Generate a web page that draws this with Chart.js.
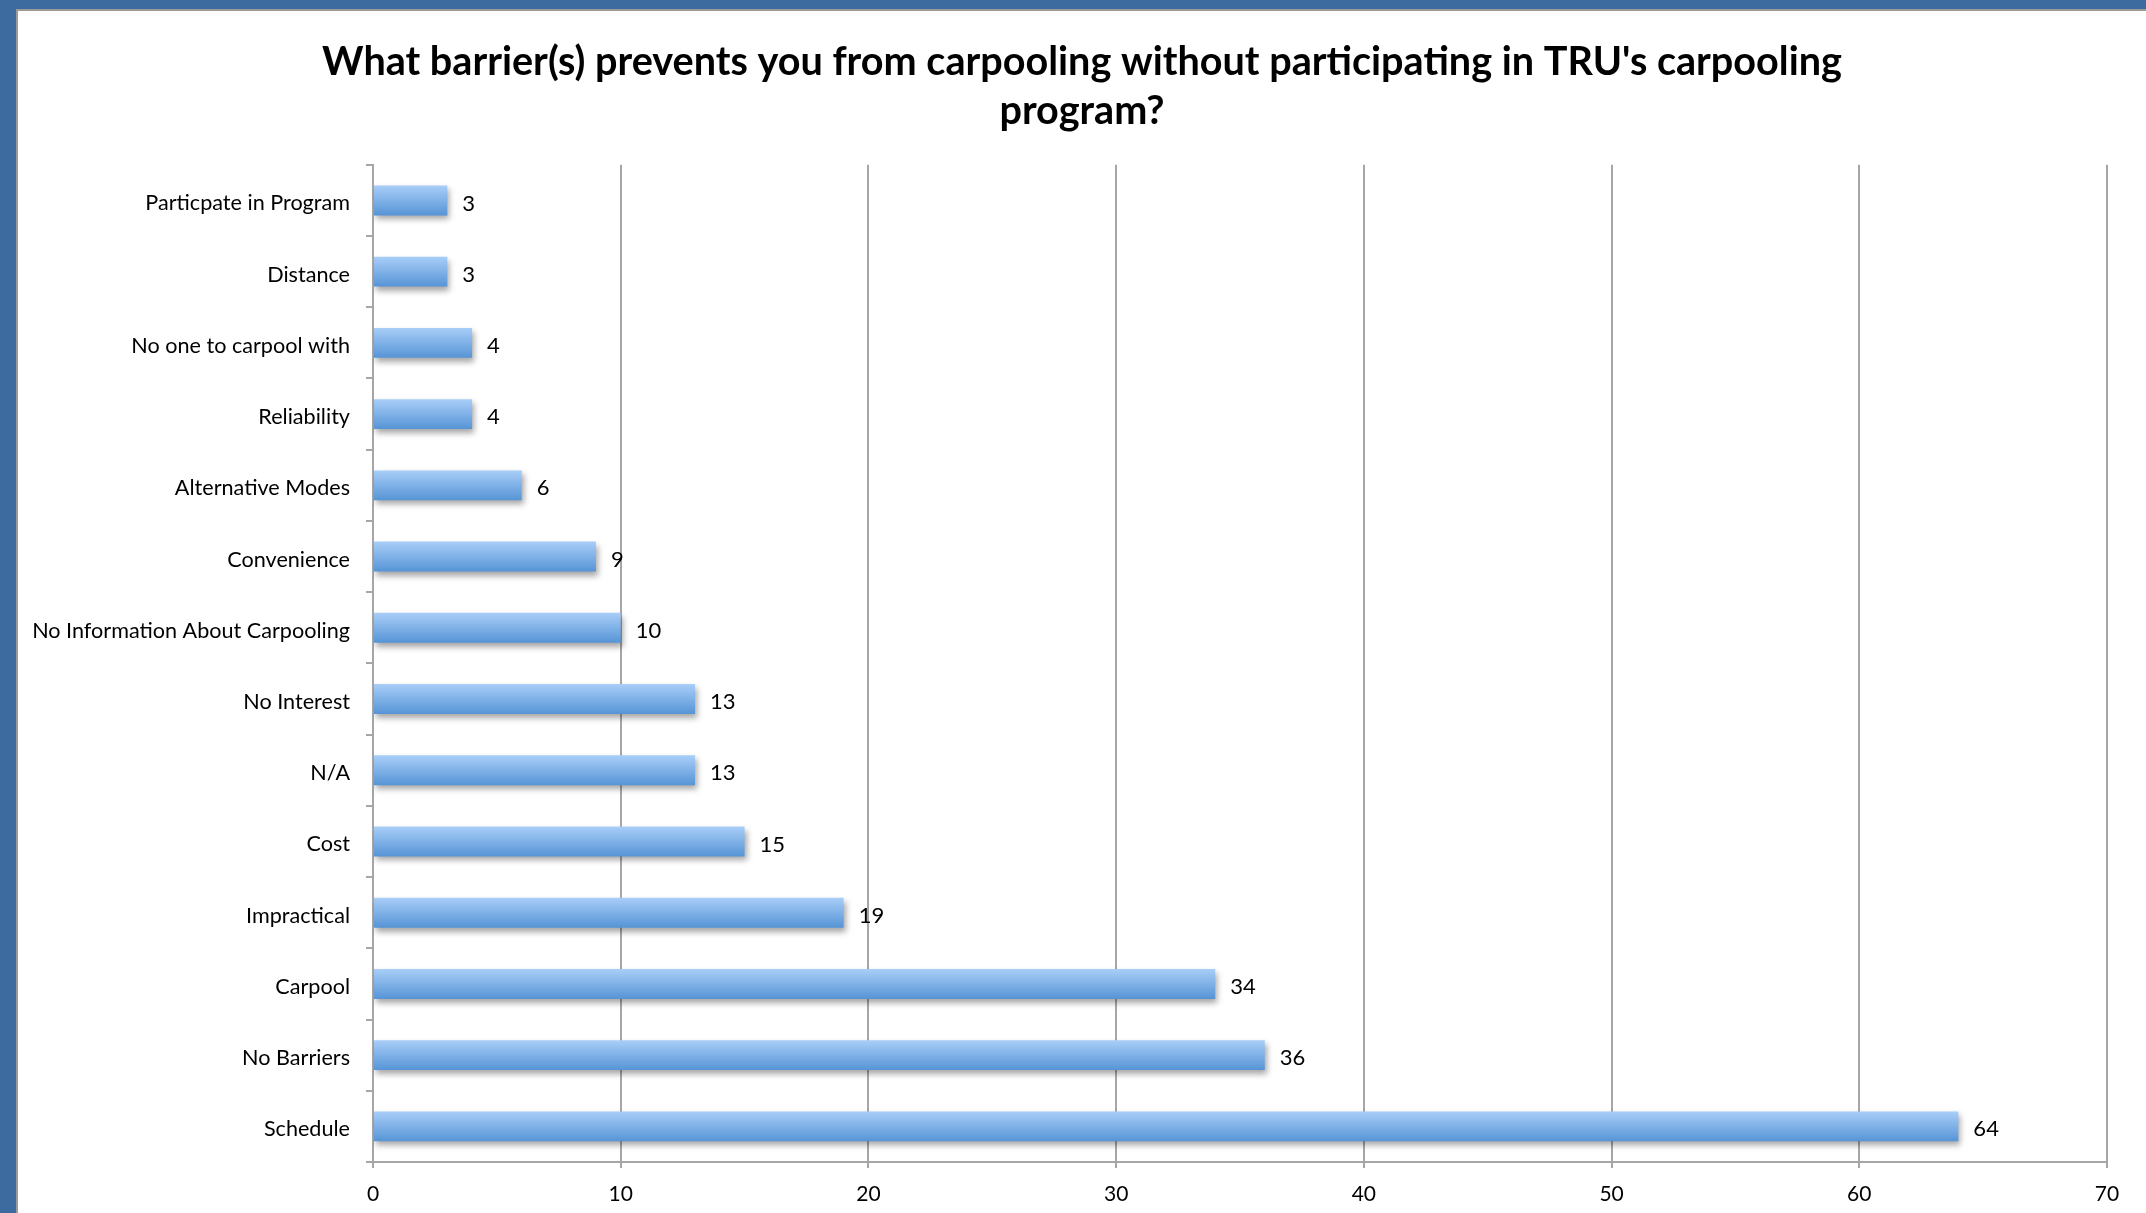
<!DOCTYPE html>
<html>
<head>
<meta charset="utf-8">
<script src="https://cdn.jsdelivr.net/npm/chart.js@4.4.1/dist/chart.umd.min.js"></script>
<style>
  html, body { margin: 0; padding: 0; }
  body { width: 2146px; height: 1213px; background: #3e6b9f; overflow: hidden; position: relative; }
  #wrap {
    position: absolute; left: 16px; top: 9px; width: 2130px; height: 1204px;
    background: #fff; border-left: 2px solid #9a9a9a; border-top: 2px solid #9a9a9a;
    box-sizing: border-box;
  }
</style>
</head>
<body>
<div id="wrap"><canvas id="barrierChart"></canvas></div>
<script>
// data
const categories = [
    'Particpate in Program', 'Distance', 'No one to carpool with', 'Reliability',
    'Alternative Modes', 'Convenience', 'No Information About Carpooling', 'No Interest',
    'N/A', 'Cost', 'Impractical', 'Carpool', 'No Barriers', 'Schedule'
];
const responses = [3, 3, 4, 4, 6, 9, 10, 13, 13, 15, 19, 34, 36, 64];
const xTicks = [0, 10, 20, 30, 40, 50, 60, 70];
const titleLines = [
    "What barrier(s) prevents you from carpooling without participating in TRU's carpooling",
    'program?'
];

const FONT = 'Lato, "Open Sans", sans-serif';
const GRID = '#a6a6a6';
const BAR_PCT = 0.42;

// bayangan bar + label nilai di kanan bar
const barExtras = {
    id: 'barExtras',
    beforeDatasetsDraw(chart) {
        const ctx = chart.ctx;
        ctx.save();
        ctx.shadowColor = 'rgba(0,0,0,0.35)';
        ctx.shadowBlur = 6;
        ctx.shadowOffsetX = 2;
        ctx.shadowOffsetY = 4;
    },
    afterDatasetsDraw(chart) {
        const ctx = chart.ctx;
        ctx.restore();
        ctx.save();
        ctx.font = '22px ' + FONT;
        ctx.fillStyle = '#000';
        ctx.textAlign = 'left';
        ctx.textBaseline = 'middle';
        chart.getDatasetMeta(0).data.forEach((bar, i) => {
            ctx.fillText(String(responses[i]), bar.x + 15, bar.y + 3);
        });
        ctx.restore();
    }
};

function barGradient(c) {
    const chart = c.chart;
    const yScale = chart.scales.y;
    if (!yScale || !chart.chartArea) return '#7eb0ea';
    const band = (chart.chartArea.bottom - chart.chartArea.top) / categories.length;
    const mid = yScale.getPixelForValue(c.dataIndex);
    const h = band * BAR_PCT;
    const g = chart.ctx.createLinearGradient(0, mid - h / 2, 0, mid + h / 2);
    g.addColorStop(0, '#a9cef8');
    g.addColorStop(1, '#5694d6');
    return g;
}

new Chart(document.getElementById('barrierChart'), {
    type: 'bar',
    data: {
        labels: categories,
        datasets: [{
            data: responses,
            backgroundColor: barGradient,
            borderWidth: 0,
            categoryPercentage: 1,
            barPercentage: BAR_PCT
        }]
    },
    options: {
        indexAxis: 'y',
        responsive: true,
        maintainAspectRatio: false,
        animation: false,
        layout: { padding: 0 },
        plugins: {
            legend: { display: false },
            tooltip: { enabled: false },
            title: {
                display: true,
                text: titleLines,
                color: '#000',
                font: { family: FONT, size: 39.6, weight: 'bold', lineHeight: 1.235 },
                padding: { top: 27, bottom: 29 }
            }
        },
        scales: {
            x: {
                min: 0,
                max: 70,
                afterBuildTicks: s => { s.ticks = xTicks.map(v => ({ value: v })); },
                afterFit: s => { s.height = 51; },
                grid: { color: GRID, lineWidth: 2, tickLength: 6 },
                border: { color: GRID, width: 2 },
                ticks: { color: '#000', padding: 14, font: { family: FONT, size: 21 } }
            },
            y: {
                afterFit: s => { s.width = 355; },
                grid: { color: GRID, lineWidth: 2, tickLength: 7, drawOnChartArea: false },
                border: { color: GRID, width: 2 },
                ticks: { color: '#000', padding: 16, labelOffset: 3, font: { family: FONT, size: 21.6 } }
            },
            // ruang kosong di kanan supaya judul tetap di tengah kanvas
            rightGap: {
                type: 'linear',
                axis: 'y',
                position: 'right',
                afterFit: s => { s.width = 39; },
                grid: { display: false },
                border: { display: false },
                ticks: { display: false }
            }
        }
    },
    plugins: [barExtras]
});
</script>
</body>
</html>
